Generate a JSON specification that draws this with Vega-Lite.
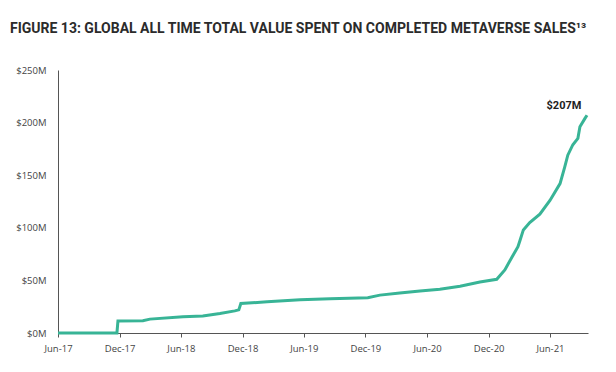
{
  "$schema": "https://vega.github.io/schema/vega-lite/v6.json",
  "width": 530,
  "height": 263,
  "autosize": {"type": "none"},
  "padding": {"left": 58, "top": 70, "right": 28, "bottom": 39},
  "background": "white",
  "title": {
    "text": "FIGURE 13: GLOBAL ALL TIME TOTAL VALUE SPENT ON COMPLETED METAVERSE SALES¹³",
    "anchor": "start",
    "frame": "group",
    "dx": -48,
    "offset": 29,
    "font": "Roboto",
    "fontSize": 14,
    "fontWeight": "bold",
    "color": "#2b2b2b"
  },
  "config": {
    "view": {"stroke": null},
    "axis": {
      "labelFont": "Open Sans",
      "labelFontSize": 9.5,
      "labelColor": "#444444",
      "domainColor": "#555555",
      "tickColor": "#555555",
      "grid": false,
      "title": null
    }
  },
  "data": {
    "values": [
      {"date": "2017-06-01", "value": 0},
      {"date": "2017-11-23", "value": 0},
      {"date": "2017-11-26", "value": 11.4},
      {"date": "2018-02-08", "value": 11.6},
      {"date": "2018-03-01", "value": 13.2},
      {"date": "2018-06-07", "value": 15.5},
      {"date": "2018-08-05", "value": 16.2},
      {"date": "2018-09-25", "value": 18.5},
      {"date": "2018-11-08", "value": 21},
      {"date": "2018-11-20", "value": 22},
      {"date": "2018-11-26", "value": 28},
      {"date": "2019-02-12", "value": 29.7},
      {"date": "2019-05-21", "value": 31.5},
      {"date": "2019-08-18", "value": 32.5},
      {"date": "2019-12-08", "value": 33.5},
      {"date": "2020-01-13", "value": 36},
      {"date": "2020-03-12", "value": 38},
      {"date": "2020-05-11", "value": 40},
      {"date": "2020-07-09", "value": 41.5},
      {"date": "2020-09-07", "value": 44.5},
      {"date": "2020-11-05", "value": 48.5},
      {"date": "2020-12-25", "value": 51},
      {"date": "2021-01-18", "value": 60},
      {"date": "2021-02-08", "value": 72},
      {"date": "2021-02-26", "value": 82},
      {"date": "2021-03-04", "value": 88},
      {"date": "2021-03-14", "value": 98},
      {"date": "2021-04-02", "value": 105},
      {"date": "2021-05-02", "value": 113},
      {"date": "2021-06-01", "value": 126},
      {"date": "2021-07-01", "value": 142},
      {"date": "2021-07-15", "value": 158},
      {"date": "2021-07-24", "value": 169},
      {"date": "2021-08-08", "value": 179},
      {"date": "2021-08-23", "value": 185},
      {"date": "2021-08-29", "value": 196},
      {"date": "2021-09-13", "value": 204},
      {"date": "2021-09-19", "value": 207, "label": "$207M"}
    ]
  },
  "encoding": {
    "x": {
      "field": "date",
      "type": "temporal",
      "scale": {"domain": [{"year": 2017, "month": 6, "date": 1}, {"year": 2021, "month": 9, "date": 22}]},
      "axis": {
        "format": "%b-%y",
        "values": [
          {"year": 2017, "month": 6, "date": 1},
          {"year": 2017, "month": 12, "date": 1},
          {"year": 2018, "month": 6, "date": 1},
          {"year": 2018, "month": 12, "date": 1},
          {"year": 2019, "month": 6, "date": 1},
          {"year": 2019, "month": 12, "date": 1},
          {"year": 2020, "month": 6, "date": 1},
          {"year": 2020, "month": 12, "date": 1},
          {"year": 2021, "month": 6, "date": 1}
        ],
        "tickSize": 4,
        "labelPadding": 6,
        "labelFlush": false,
        "labelOverlap": false
      }
    },
    "y": {
      "field": "value",
      "type": "quantitative",
      "scale": {"domain": [0, 250]},
      "axis": {
        "values": [0, 50, 100, 150, 200, 250],
        "labelExpr": "'$' + datum.value + 'M'",
        "ticks": false,
        "labelPadding": 12
      }
    }
  },
  "layer": [
    {
      "mark": {"type": "line", "color": "#38b496", "strokeWidth": 3, "interpolate": "linear"}
    },
    {
      "transform": [{"filter": "datum.label != null"}],
      "mark": {"type": "text", "font": "Roboto", "fontWeight": "bold", "fontSize": 11, "color": "#222222", "dx": -23, "dy": -9, "baseline": "middle", "align": "center"},
      "encoding": {"text": {"field": "label"}}
    }
  ]
}
